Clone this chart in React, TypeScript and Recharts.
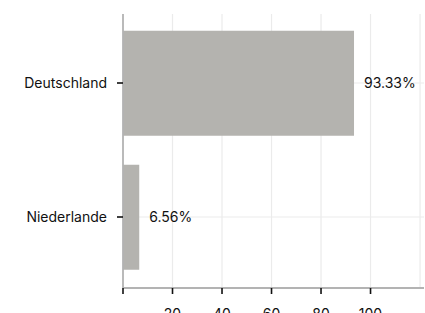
import React from "react";
import {
  BarChart,
  Bar,
  XAxis,
  YAxis,
  CartesianGrid,
  LabelList,
} from "recharts";

const countries = ["Deutschland", "Niederlande"];
const shares = [93.33, 6.56];
const xTicks = [0, 20, 40, 60, 80, 100, 120];

const data = countries.map((name, i) => ({ name, share: shares[i] }));

const FONT = "Inter, 'Noto Sans', sans-serif";
const GRID = "#ebebeb";

function XTick(props: any) {
  const { x, y, payload } = props;
  const v = payload.value;
  if (v === 120) return null;
  return (
    <g>
      <line x1={x} x2={x} y1={y - 8} y2={y - 2} stroke="#111" strokeWidth={1.6} />
      {v !== 0 && (
        <text
          x={x}
          y={y + 23}
          textAnchor="middle"
          fill="#111"
          fontSize={14}
          fontFamily={FONT}
        >
          {v}
        </text>
      )}
    </g>
  );
}

export default function App() {
  return (
    <div style={{ position: "absolute", left: 0, top: 0, background: "#fff" }}>
      <BarChart
        width={425}
        height={313}
        data={data}
        layout="vertical"
        margin={{ top: 14, right: 1, left: 0, bottom: 0 }}
        barCategoryGap="11%"
      >
        <CartesianGrid
          stroke={GRID}
          strokeWidth={1.2}
          horizontal={false}
          verticalValues={xTicks.slice(1)}
        />
        <CartesianGrid
          stroke={GRID}
          strokeWidth={1.2}
          vertical={false}
          horizontalValues={countries}
          syncWithTicks
        />
        <XAxis
          type="number"
          domain={[0, 121.6]}
          ticks={xTicks}
          height={25}
          tickLine={false}
          tick={<XTick />}
          axisLine={{ stroke: "#b3b3b3", strokeWidth: 1.8 }}
          interval={0}
        />
        <YAxis
          type="category"
          dataKey="name"
          width={123}
          padding={{ top: 2, bottom: 4 }}
          tickSize={6}
          tickMargin={10}
          tickLine={{ stroke: "#111", strokeWidth: 1.6 }}
          axisLine={{ stroke: "#b3b3b3", strokeWidth: 1.8 }}
          tick={{ fill: "#111", fontSize: 14, fontFamily: FONT }}
        />
        <Bar dataKey="share" fill="#b4b3af" isAnimationActive={false}>
          <LabelList
            dataKey="share"
            position="right"
            offset={10}
            formatter={(v: any) => `${Number(v).toFixed(2)}%`}
            style={{ fill: "#111", fontSize: 14, fontFamily: FONT }}
          />
        </Bar>
      </BarChart>
    </div>
  );
}
